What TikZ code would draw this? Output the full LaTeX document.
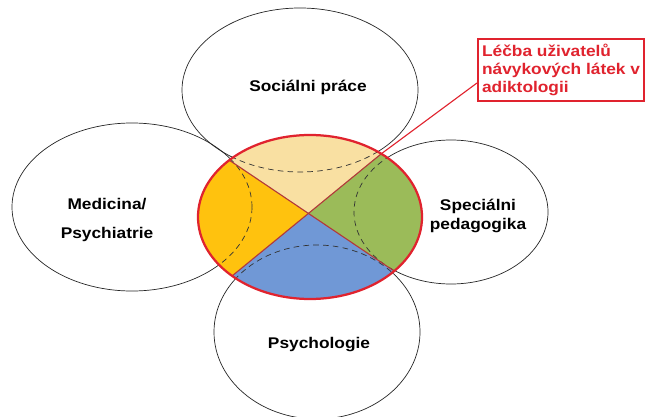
\documentclass[tikz,border=0pt]{standalone}
\usepackage{fontspec}
\setmainfont{Liberation Sans}[FakeStretch=1.12]
\usepackage{tikz}
\usetikzlibrary{calc}

\definecolor{svetla}{HTML}{F9E0A2}
\definecolor{oranzova}{HTML}{FFC20E}
\definecolor{zelena}{HTML}{9BBB59}
\definecolor{modra}{HTML}{7098D6}
\definecolor{cervena}{HTML}{E0232E}
\definecolor{kriz}{HTML}{B2393A}

\begin{document}
\begin{tikzpicture}[x=.025cm,y=.025cm,
   obor/.style={font=\bfseries\fontsize{11}{13}\selectfont},
   okraj/.style={draw=black!85,line width=.5pt},
   carkovane/.style={draw=black!80,line width=.5pt,dash pattern=on 4pt off 3pt},
   stitek/.style={draw=cervena,line width=1.2pt,text=cervena,align=left,
      font=\bfseries\fontsize{11}{12.5}\selectfont,inner xsep=3pt,inner ysep=4pt}]
   \useasboundingbox (0,0) rectangle (648,416);
   %elipsy
   \draw[okraj] (300,326) ellipse (118 and 82);
   \draw[okraj] (132,209) ellipse (120 and 84);
   \draw[okraj] (451,204) ellipse (97 and 72);
   \draw[okraj] (317,84) ellipse (103 and 87);
   %body na okraji
   \coordinate (ur) at (381,262);
   \coordinate (ul) at (229,256);
   \coordinate (ll) at (232,140);
   \coordinate (lr) at (394,145);
   \coordinate (c) at (intersection of ul--lr and ur--ll);
   %vysece
   \fill[svetla] (c) -- (ur) arc[start angle=50.5,end angle=136,x radius=112,y radius=82] -- cycle;
   \fill[oranzova] (c) -- (ul) arc[start angle=136,end angle=226,x radius=112,y radius=82] -- cycle;
   \fill[modra] (c) -- (ll) arc[start angle=226,end angle=318.5,x radius=112,y radius=82] -- cycle;
   \fill[zelena] (c) -- (lr) arc[start angle=-41.5,end angle=50.5,x radius=112,y radius=82] -- cycle;
   %prekryvy
   \begin{scope}
      \clip (310,199) ellipse (112 and 82);
      \draw[carkovane] (300,326) ellipse (118 and 82);
      \draw[carkovane] (132,209) ellipse (120 and 84);
      \draw[carkovane] (451,204) ellipse (97 and 72);
      \draw[carkovane] (317,84) ellipse (103 and 87);
   \end{scope}
   \draw[kriz,line width=.8pt] (ul) -- (lr);
   \draw[kriz,line width=.8pt] (ur) -- (ll);
   \draw[cervena,line width=1.6pt] (310,199) ellipse (112 and 82);
   %popisky
   \node[obor] (socialni) at (308,329) {Sociálni práce};
   \node[obor,align=center] (medicina) at (107,196) {Medicina/\\[8pt]Psychiatrie};
   \node[obor,align=center] (specialni) at (478,200) {Speciálni\\pedagogika};
   \node[obor] (psychologie) at (319,71) {Psychologie};
   \node[stitek,anchor=north west] (lecba) at (477,378) {Léčba uživatelů\\návykových látek v\\adiktologii};
   \draw[cervena,line width=.8pt] ([yshift=.47cm]lecba.south west) -- (ur);
\end{tikzpicture}
\end{document}
